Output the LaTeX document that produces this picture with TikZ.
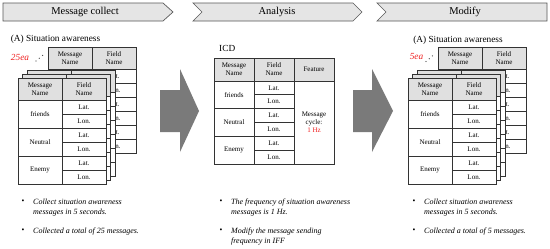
\documentclass[tikz,border=0pt]{standalone}
\usepackage{fontspec}
\setmainfont{Liberation Serif}
\definecolor{redtxt}{RGB}{240,30,30}
\tikzset{
 tbl/.style={draw=black!80, line width=0.7pt},
 banner/.style={fill=black!10, draw=black!65, line width=0.7pt},
 bigarrow/.style={fill=black!52},
 ttext/.style={font=\fontsize{7}{8}\selectfont, align=center, inner sep=0pt},
 btext/.style={font=\fontsize{8}{9.5}\selectfont\itshape, anchor=base west, inner sep=0pt},
 bul/.style={font=\fontsize{8}{9.5}\selectfont, inner sep=0pt},
 ttl/.style={font=\fontsize{10.5}{12}\selectfont, inner sep=0pt},
 sub/.style={font=\fontsize{9.3}{11}\selectfont, inner sep=0pt},
 dotc/.style={fill=black!75},
}
% grid of one situation-awareness table, top-left at (#1,#2)
\newcommand{\satabgrid}[2]{%
 \begin{scope}[shift={(#1,#2)}]
 \fill[white] (0,0) rectangle (88,106);
 \fill[black!12] (0,0) rectangle (88,22);
 \draw[tbl] (0,0) rectangle (88,106);
 \draw[tbl] (0,22) -- (88,22) (44,0) -- (44,106) (0,50) -- (88,50) (0,78) -- (88,78)
   (44,36) -- (88,36) (44,64) -- (88,64) (44,92) -- (88,92);
 \end{scope}}
% header + field texts
\newcommand{\satabfields}[3]{%
 \begin{scope}[shift={(#1,#2)}]
 \node[ttext] (#3h1) at (22,11) {Message\\Name};
 \node[ttext] (#3h2) at (66,11) {Field\\Name};
 \node[ttext] (#3f1) at (66,29) {Lat.};
 \node[ttext] (#3f2) at (66,43) {Lon.};
 \node[ttext] (#3f3) at (66,57) {Lat.};
 \node[ttext] (#3f4) at (66,71) {Lon.};
 \node[ttext] (#3f5) at (66,85) {Lat.};
 \node[ttext] (#3f6) at (66,99) {Lon.};
 \end{scope}}
% row labels
\newcommand{\satabrows}[3]{%
 \begin{scope}[shift={(#1,#2)}]
 \node[ttext] (#3r1) at (22,36) {friends};
 \node[ttext] (#3r2) at (22,64) {Neutral};
 \node[ttext] (#3r3) at (22,92) {Enemy};
 \end{scope}}
\begin{document}
\begin{tikzpicture}[x=1pt,y=-1pt]
\useasboundingbox[fill=white] (0,0) rectangle (550,249);
% banners
\draw[banner] (3,3) -- (163,3) -- (173,12) -- (163,21) -- (3,21) -- cycle;
\node[ttl] (t1) at (85,12) {Message collect};
\draw[banner] (193,3) -- (353,3) -- (362,12) -- (353,21) -- (193,21) -- (202,12) -- cycle;
\node[ttl] (t2) at (277,12) {Analysis};
\draw[banner] (377,3) -- (547,3) -- (547,21) -- (377,21) -- (386,12) -- cycle;
\node[ttl] (t3) at (465,12) {Modify};
% big arrows
\fill[bigarrow] (160,90) -- (180,90) -- (180,69) -- (199,111) -- (180,152) -- (180,132) -- (160,132) -- cycle;
\fill[bigarrow] (353,90) -- (372,90) -- (372,69) -- (393,111) -- (372,152) -- (372,132) -- (353,132) -- cycle;
% left stack
\node[sub] (sa1) at (55.5,39.5) {(A) Situation awareness};
\node[sub, text=redtxt, font=\fontsize{9.3}{11}\selectfont\itshape] (n1) at (20,57) {25ea};
\fill[dotc] (36,61) circle (0.65) (39.3,58.2) circle (0.65) (42.6,55.4) circle (0.65);
\satabgrid{48}{47}
\satabfields{48}{47}{La}
\satabgrid{27}{70}
\satabgrid{22}{74}
\satabgrid{18}{78}
\satabfields{18}{78}{Ld}
\satabrows{18}{78}{Ld}
% right stack
\node[sub] (sa2) at (458,40) {(A) Situation awareness};
\node[sub, text=redtxt, font=\fontsize{9.3}{11}\selectfont\itshape] (n2) at (416.5,57) {5ea};
\fill[dotc] (426,61.5) circle (0.65) (429.2,58.7) circle (0.65) (432.4,55.9) circle (0.65);
\satabgrid{438}{47}
\satabfields{438}{47}{Ra}
\satabgrid{417}{70}
\satabgrid{412}{74}
\satabgrid{408}{78}
\satabfields{408}{78}{Rd}
\satabrows{408}{78}{Rd}
% ICD table
\node[sub, anchor=west] (icd) at (219,48) {ICD};
\fill[white] (214,58) rectangle (334,164);
\fill[black!12] (214,58) rectangle (334,81);
\draw[tbl] (214,58) rectangle (334,164);
\draw[tbl] (214,81) -- (334,81) (254,58) -- (254,164) (294,58) -- (294,164)
  (214,108.7) -- (294,108.7) (214,136.3) -- (294,136.3)
  (254,94.8) -- (294,94.8) (254,122.5) -- (294,122.5) (254,150.2) -- (294,150.2);
\node[ttext] (ih1) at (234,69.5) {Message\\Name};
\node[ttext] (ih2) at (274,69.5) {Field\\Name};
\node[ttext] (ih3) at (314,69.5) {Feature};
\node[ttext] (ir1) at (234,94.8) {friends};
\node[ttext] (ir2) at (234,122.5) {Neutral};
\node[ttext] (ir3) at (234,150.2) {Enemy};
\node[ttext] (if1) at (274,87.9) {Lat.};
\node[ttext] (if2) at (274,101.7) {Lon.};
\node[ttext] (if3) at (274,115.6) {Lat.};
\node[ttext] (if4) at (274,129.4) {Lon.};
\node[ttext] (if5) at (274,143.2) {Lat.};
\node[ttext] (if6) at (274,157.1) {Lon.};
\node[ttext] (ifeat) at (314,122.5) {Message\\cycle:\\\textcolor{redtxt}{1 Hz}};
% bullets left
\node[bul] (lb1) at (23,202) {•};
\node[btext] (l1) at (33,204.5) {Collect situation awareness};
\node[btext] (l2) at (33,214) {messages in 5 seconds.};
\node[bul] (lb2) at (23,231) {•};
\node[btext] (l3) at (33,233.5) {Collected a total of 25 messages.};
% bullets middle
\node[bul] (mb1) at (221,202) {•};
\node[btext] (m1) at (231,204.5) {The frequency of situation awareness};
\node[btext] (m2) at (231,214) {messages is 1 Hz.};
\node[bul] (mb2) at (221,231) {•};
\node[btext] (m3) at (231,233.5) {Modify the message sending};
\node[btext] (m4) at (231,243) {frequency in IFF};
% bullets right
\node[bul] (rb1) at (414,202) {•};
\node[btext] (r1) at (424,204.5) {Collect situation awareness};
\node[btext] (r2) at (424,214) {messages in 5 seconds.};
\node[bul] (rb2) at (414,231) {•};
\node[btext] (r3) at (424,233.5) {Collected a total of 5 messages.};
\end{tikzpicture}
\end{document}
